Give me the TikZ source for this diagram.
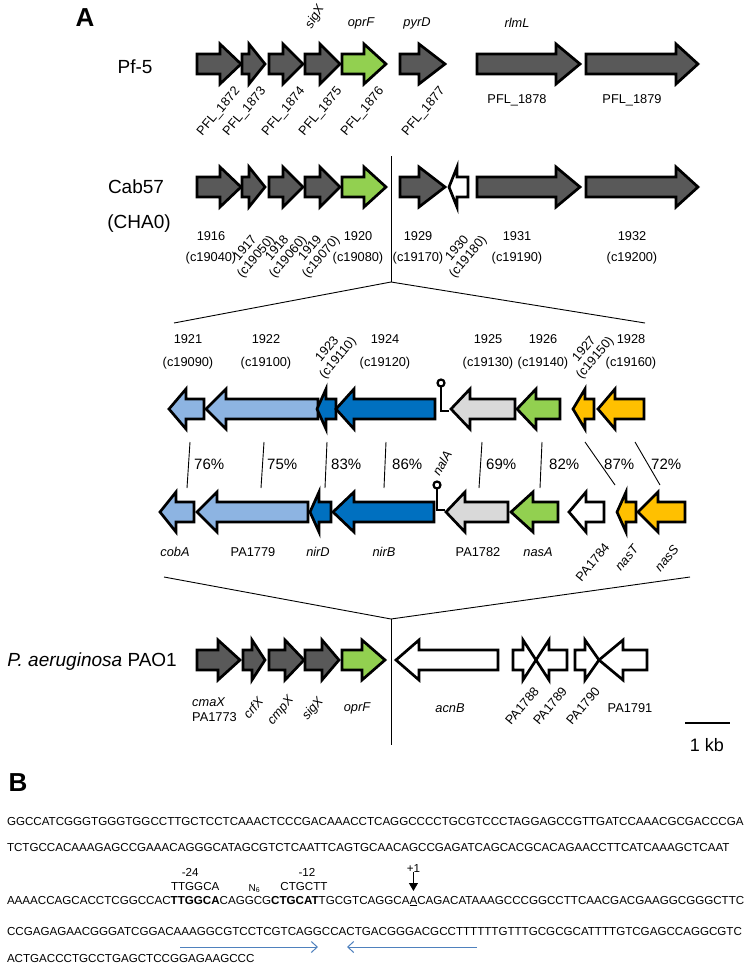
\documentclass[tikz,border=0pt]{standalone}
\usepackage{fontspec}
\setmainfont{Liberation Sans}
\usetikzlibrary{arrows.meta,calc}
\definecolor{dgrey}{HTML}{595959}
\definecolor{lgreen}{HTML}{92D050}
\definecolor{lblue}{HTML}{8DB4E2}
\definecolor{dblue}{HTML}{0070C0}
\definecolor{lgrey}{HTML}{D9D9D9}
\definecolor{orng}{HTML}{FFC000}
\definecolor{seqblue}{HTML}{4F81BD}
\def\bh{10}
\def\hh{20}
\newcommand{\genearr}[5]{%
  \filldraw[genestyle, fill=#5] (#1,#4-\bh) -- (#2,#4-\bh) -- (#2,#4-\hh) -- (#3,#4) -- (#2,#4+\hh) -- (#2,#4+\bh) -- (#1,#4+\bh) -- cycle;}
\newcommand{\genelines}[4]{%
  \draw[genestyle] (#1,#4-\bh) -- (#2,#4-\bh) -- (#2,#4-\hh) -- (#3,#4) -- (#2,#4+\hh) -- (#2,#4+\bh) -- (#1,#4+\bh) -- cycle;}
\newcommand{\termin}[3]{%
  \draw[termstyle] (#1,#2+4) -- (#1,#3) -- (#1+8,#3);
  \draw[termstyle, fill=white] (#1,#2) circle[radius=3.5pt];}
\tikzset{
  genestyle/.style={draw=black, line width=2.7pt, line join=miter, miter limit=10},
  termstyle/.style={draw=black, line width=2.2pt},
  lbl/.style={font=\fontsize{12.8}{14}\selectfont, inner sep=0pt},
  lbltwo/.style={font=\fontsize{12.8}{14}\selectfont, inner sep=0pt, align=center},
  ital/.style={font=\fontsize{12.8}{14}\selectfont\itshape, inner sep=0pt},
  org/.style={font=\fontsize{19}{22}\selectfont, inner sep=0pt},
  pct/.style={font=\fontsize{15}{17}\selectfont, inner sep=0pt, anchor=west},
  panel/.style={font=\fontsize{26}{30}\selectfont\bfseries, inner sep=0pt},
  conn/.style={draw=black, line width=0.9pt},
  seq/.style={font=\fontsize{11.6}{13}\selectfont, inner sep=0pt, outer sep=0pt, anchor=base west},
  seqa/.style={font=\fontsize{11.6}{13}\selectfont, inner sep=0pt, anchor=base},
  seqarrow/.style={draw=seqblue, line width=1pt, -{Straight Barb[length=6pt,width=11pt]}},
}
\begin{document}
\begin{tikzpicture}[x=1pt,y=-1pt]
\fill[white] (0,0) rectangle (746,972);
\useasboundingbox (0,0) rectangle (746,972);

% ---------------- Panel A ----------------
\node[panel] (pA) at (85,18) {A};

% Pf-5 row
\node[org] (pf5) at (135,67) {Pf-5};
\genearr{197}{220}{241}{64}{dgrey}
\genearr{242}{249}{265}{64}{dgrey}
\genearr{269}{283}{303}{64}{dgrey}
\genearr{305}{320}{340}{64}{dgrey}
\genearr{342}{364}{386}{64}{lgreen}
\genearr{400}{419}{445}{64}{dgrey}
\genearr{477}{556}{580}{64}{dgrey}
\genearr{586}{676}{698}{64}{dgrey}
\node[ital, rotate=60] (gsigA) at (315,17) {sigX};
\node[ital] (goprA) at (361,23) {oprF};
\node[ital] (gpyrD) at (417,23) {pyrD};
\node[ital] (grlmL) at (517,23) {rlmL};
\foreach \x/\t in {238/1872, 264/1873, 303/1874, 340/1875, 382/1876, 443/1877}
  \node[lbl, rotate=50, anchor=east] (pfl\t) at (\x,89) {PFL\_\t};
\node[lbl] (pfl1878) at (517,100) {PFL\_1878};
\node[lbl] (pfl1879) at (632,100) {PFL\_1879};

% Cab57 row
\node[org] (cab) at (136,187) {Cab57};
\node[org] (cha) at (139,224) {(CHA0)};
\genearr{197}{220}{241}{187}{dgrey}
\genearr{242}{249}{265}{187}{dgrey}
\genearr{269}{283}{303}{187}{dgrey}
\genearr{305}{320}{340}{187}{dgrey}
\genearr{342}{364}{386}{187}{lgreen}
\genearr{400}{419}{445}{187}{dgrey}
\genearr{468}{457}{449}{187}{white}
\genearr{477}{556}{580}{187}{dgrey}
\genearr{586}{676}{698}{187}{dgrey}
\foreach \x/\a/\b in {211/1916/c19040, 358/1920/c19080, 418/1929/c19170, 517/1931/c19190, 632/1932/c19200} {
  \node[lbl] (n\a) at (\x,236) {\a};
  \node[lbl] (c\a) at (\x,258) {(\b)};
}
\foreach \x/\a/\b in {251/1917/c19050, 283/1918/c19060, 316/1919/c19070, 463/1930/c19180}
  \node[lbltwo, rotate=50] (r\a) at (\x,253) {\a\\(\b)};

% zoom wedge 1
\coordinate (apex1) at (391,282);
\draw[conn] (391,156) -- (apex1);
\draw[conn] (174,323) -- (apex1) -- (645,323);

% middle labels
\foreach \x/\a/\b in {188/1921/c19090, 266/1922/c19100, 385/1924/c19120, 488/1925/c19130, 543/1926/c19140, 631/1928/c19160} {
  \node[lbl] (n\a) at (\x,339) {\a};
  \node[lbl] (c\a) at (\x,363) {(\b)};
}
\node[lbltwo, rotate=50] (r1923) at (333,354) {1923\\(c19110)};
\node[lbltwo, rotate=50] (r1927) at (590,354) {1927\\(c19150)};

% middle top row (CHA0 cluster)
\genearr{204}{186}{169}{409}{lblue}
\genearr{318}{226}{206}{409}{lblue}
\genearr{336}{326}{317}{409}{dblue}
\genearr{435}{354}{336}{409}{dblue}
\termin{441}{383}{411}
\genearr{515}{470}{451}{409}{lgrey}
\genearr{560}{536}{517}{409}{lgreen}
\genearr{594}{585}{573}{409}{orng}
\genearr{644}{615}{598}{409}{orng}

% identity lines
\foreach \a/\b/\t/\p in {190/187/194/76, 264/261/267/75, 327/325/331/83, 386/384/392/86, 482/479/486/69, 542/540/549/82} {
  \draw[conn] (\a,442) -- (\b,488);
  \node[pct] (pc\p) at (\t,464) {\p\%};
}
\draw[conn] (585,442) -- (615,485);
\node[pct] (pc87) at (604,464) {87\%};
\draw[conn] (635,442) -- (660,485);
\node[pct] (pc72) at (651,464) {72\%};
\node[ital, rotate=60] (nalA) at (442,463) {nalA};

% middle bottom row (PAO1 cluster)
\genearr{194}{176}{160}{512}{lblue}
\genearr{308}{217}{197}{512}{lblue}
\genearr{331}{319}{310}{512}{dblue}
\genearr{434}{354}{333}{512}{dblue}
\termin{437}{485}{510}
\genearr{508}{465}{446}{512}{lgrey}
\genearr{558}{533}{511}{512}{lgreen}
\genearr{604}{586}{569}{512}{white}
\genearr{636}{626}{617}{512}{orng}
\genearr{685}{658}{638}{512}{orng}
\node[ital] (cobA) at (175,552) {cobA};
\node[lbl] (pa1779) at (253,552) {PA1779};
\node[ital] (nirD) at (318,552) {nirD};
\node[ital] (nirB) at (384,552) {nirB};
\node[lbl] (pa1782) at (478,552) {PA1782};
\node[ital] (nasA) at (538,552) {nasA};
\node[lbl, rotate=50, anchor=east] (pa1784) at (607,545) {PA1784};
\node[ital, rotate=50, anchor=east] (nasT) at (636,547) {nasT};
\node[ital, rotate=50, anchor=east] (nasS) at (676,547) {nasS};

% zoom wedge 2
\coordinate (apex2) at (391,619);
\draw[conn] (164,577) -- (apex2) -- (690,577);
\draw[conn] (apex2) -- (391,745);

% PAO1 row
\node[org, anchor=east] (pao) at (177,662) {\textit{P. aeruginosa} PAO1};
\genearr{197}{218}{240}{660}{dgrey}
\genearr{243}{252}{265}{660}{dgrey}
\genearr{269}{285}{304}{660}{dgrey}
\genearr{305}{322}{339}{660}{dgrey}
\genearr{342}{362}{385}{660}{lgreen}
\genearr{498}{419}{396}{660}{white}
\fill[white] (513,650) rectangle (567,670);
\genelines{513}{523}{536}{660}
\genelines{567}{549}{536}{660}
\fill[white] (575,650) rectangle (647,670);
\genelines{575}{585}{599}{660}
\genelines{647}{623}{599}{660}
\node[ital, anchor=west] (cmaX) at (192,702) {cmaX};
\node[lbl, anchor=west] (pa1773) at (192,717) {PA1773};
\node[ital, rotate=50] (crfX) at (253,708) {crfX};
\node[ital, rotate=50] (cmpX) at (281,711) {cmpX};
\node[ital, rotate=50] (sigXp) at (313,709) {sigX};
\node[ital] (oprFp) at (357,708) {oprF};
\node[ital] (acnB) at (450,708) {acnB};
\node[lbl, rotate=50] (pa1788) at (522,706) {PA1788};
\node[lbl, rotate=50] (pa1789) at (550,706) {PA1789};
\node[lbl, rotate=50] (pa1790) at (583,706) {PA1790};
\node[lbl] (pa1791) at (630,708) {PA1791};

% scale bar
\draw[line width=2.2pt] (685,723) -- (730,723);
\node[font=\fontsize{18}{20}\selectfont, inner sep=0pt] (kb) at (707,745) {1 kb};

% ---------------- Panel B ----------------
\node[panel] (pB) at (18,783) {B};
\node[seq] (s1) at (7,825) {GGCCATCGGGTGGGTGGCCTTGCTCCTCAAACTCCCGACAAACCTCAGGCCCCTGCGTCCCTAGGAGCCGTTGATCCAAACGCGACCCGA};
\node[seq] (s2) at (7,851) {TCTGCCACAAAGAGCCGAAACAGGGCATAGCGTCTCAATTCAGTGCAACAGCCGAGATCAGCACGCACAGAACCTTCATCAAAGCTCAAT};
\node[seq] (s3a) at (7,904) {AAAACCAGCACCTCGGCCAC};
\node[seq] (s3b) at (s3a.base east) {\bfseries TTGGCA};
\node[seq] (s3c) at (s3b.base east) {CAGGCG};
\node[seq] (s3d) at (s3c.base east) {\bfseries CTGCAT};
\node[seq] (s3e) at (s3d.base east) {TGCGTCAGGCA};
\node[seq] (s3f) at (s3e.base east) {\underline{A}};
\node[seq] (s3g) at (s3f.base east) {CAGACATAAAGCCCGGCCTTCAACGACGAAGGCGGGCTTC};
\node[seq] (s4) at (7,935) {CCGAGAGAACGGGATCGGACAAAGGCGTCCTCGTCAGGCCACTGACGGGACGCCTTTTTTGTTTGCGCGCATTTTGTCGAGCCAGGCGTC};
\node[seq] (s5) at (7,962) {ACTGACCCTGCCTGAGCTCCGGAGAAGCCC};

\node[seqa] (m24) at ($(s3b.base)+(-5,-28)$) {-24};
\node[seqa] (a24) at ($(s3b.base)+(0,-14)$) {TTGGCA};
\node[seqa] (n6) at ($(s3c.base)+(9,-13)$) {\fontsize{10}{11}\selectfont N\textsubscript{6}};
\node[seqa] (m12) at ($(s3d.base)+(12,-28)$) {-12};
\node[seqa] (a12) at ($(s3d.base)+(9,-14)$) {CTGCTT};
\node[seqa] (p1) at ($(s3f.base)+(0,-32)$) {+1};
\coordinate (p1tip) at ($(s3f.base)+(0,-13)$);
\draw[line width=0.8pt, -{Triangle[length=8pt,width=9pt]}] (p1.south) -- (p1tip);

\coordinate (ir1a) at (180,947);
\coordinate (ir1b) at (318,947);
\coordinate (ir2a) at (477,947);
\coordinate (ir2b) at (347,947);
\draw[seqarrow] (ir1a) -- (ir1b);
\draw[seqarrow] (ir2a) -- (ir2b);
\end{tikzpicture}
\end{document}
